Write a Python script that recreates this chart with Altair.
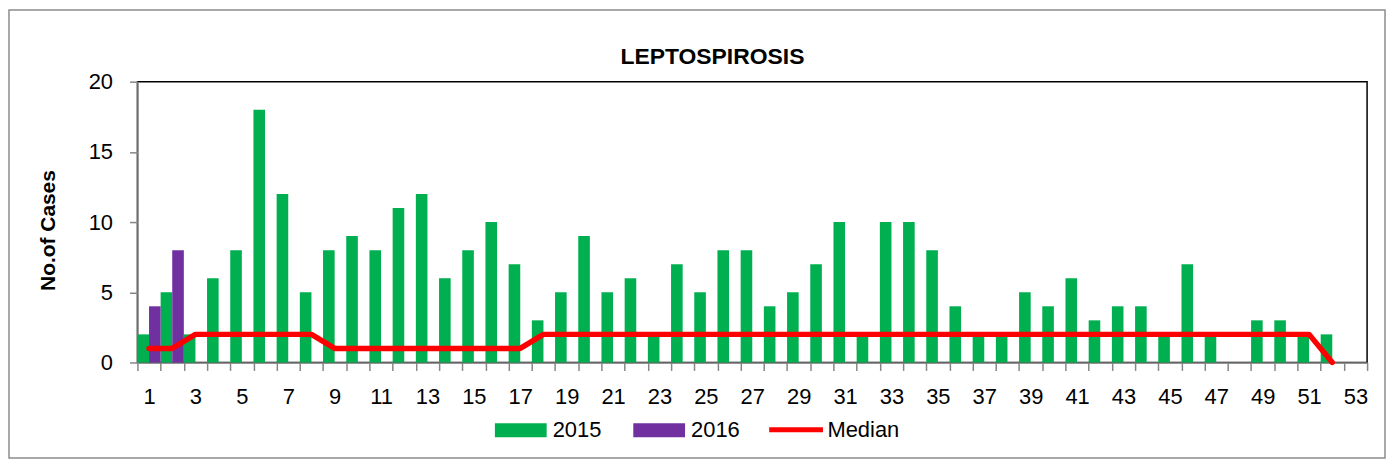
import altair as alt
import pandas as pd

# ---- data ----
weeks = list(range(1, 54))
cases_2015 = [2, 5, 2, 6, 8, 18, 12, 5, 8, 9, 8, 11, 12, 6, 8, 10, 7, 3, 5, 9,
              5, 6, 2, 7, 5, 8, 8, 4, 5, 7, 10, 2, 10, 10, 8, 4, 2, 2, 5, 4,
              6, 3, 4, 4, 2, 7, 2, 0, 3, 3, 2, 2]
weeks_2016 = [1, 2]
cases_2016 = [4, 8]
median = [1, 1, 2, 2, 2, 2, 2, 2, 1, 1, 1, 1, 1, 1, 1, 1, 1, 2, 2, 2,
          2, 2, 2, 2, 2, 2, 2, 2, 2, 2, 2, 2, 2, 2, 2, 2, 2, 2, 2, 2,
          2, 2, 2, 2, 2, 2, 2, 2, 2, 2, 2, 0]
year_labels = ["2015", "2016"]
year_colors = ["#00B050", "#7030A0"]
y_ticks = [0, 5, 10, 15, 20]

rows = [{"week": w, "year": "2015", "cases": c} for w, c in zip(weeks, cases_2015)]
rows += [{"week": w, "year": "2016", "cases": c} for w, c in zip(weeks_2016, cases_2016)]
bars_df = pd.DataFrame(rows)
med_df = pd.DataFrame({"week": weeks[:len(median)], "median": median,
                       "series": ["Median"] * len(median)})

FONT = "Liberation Sans"
AXIS_GREY = "#868686"

x_scale = alt.Scale(domain=weeks, paddingInner=0, paddingOuter=0)
y_scale = alt.Scale(domain=[0, 20], nice=False)

x_axis = alt.Axis(
    title=None, labelAngle=0, tickBand="extent", labelOverlap=False,
    labelExpr="datum.value % 2 == 1 ? datum.label : ''",
    labelFont=FONT, labelFontSize=22, labelColor="black", labelPadding=16,
    tickSize=8, tickColor=AXIS_GREY, tickWidth=1.5,
    domainColor=AXIS_GREY, domainWidth=1.5, grid=False,
)
y_axis = alt.Axis(
    title="No.of Cases", values=y_ticks, grid=False,
    titleFont=FONT, titleFontSize=21, titleFontWeight="bold", titleColor="black",
    titleX=-89, titleY=149, titleAlign="center", titleBaseline="middle", titleAngle=270,
    labelFont=FONT, labelFontSize=22, labelColor="black", labelPadding=17,
    tickSize=8, tickColor=AXIS_GREY, tickWidth=1.5,
    domainColor=AXIS_GREY, domainWidth=1.5,
)

frame = alt.Chart(alt.Data(values=[{"k": 1}])).mark_rect(
    fill="white", fillOpacity=0, stroke="#8c8c8c", strokeWidth=1.5
).encode(
    x=alt.value(-129), x2=alt.value(1253), y=alt.value(-72), y2=alt.value(378)
)

bars = alt.Chart(bars_df).mark_bar().encode(
    x=alt.X("week:O", scale=x_scale, axis=x_axis),
    xOffset=alt.XOffset("year:N", scale=alt.Scale(domain=year_labels, paddingInner=0, paddingOuter=0)),
    y=alt.Y("cases:Q", scale=y_scale, axis=y_axis),
    color=alt.Color(
        "year:N", scale=alt.Scale(domain=year_labels, range=year_colors),
        legend=alt.Legend(
            title=None, orient="none", legendX=359, legendY=324, direction="horizontal",
            symbolType="M-1,-0.27H1V0.27H-1Z", symbolSize=2704, symbolStrokeWidth=0,
            labelFont=FONT, labelFontSize=22, labelColor="black", labelOffset=6,
            columnPadding=32,
        ),
    ),
)

line = alt.Chart(med_df).mark_line(strokeWidth=5.5, strokeJoin="round", strokeCap="round").encode(
    x=alt.X("week:O", scale=x_scale),
    y=alt.Y("median:Q", scale=y_scale),
    stroke=alt.Stroke(
        "series:N", scale=alt.Scale(domain=["Median"], range=["#FF0000"]),
        legend=alt.Legend(
            title=None, orient="none", legendX=632, legendY=320, direction="horizontal",
            symbolType="stroke", symbolSize=2916, symbolStrokeWidth=5,
            labelFont=FONT, labelFontSize=22, labelColor="black", labelOffset=2,
        ),
    ),
)

chart = alt.layer(frame, bars, line).properties(
    width=1235, height=282,
    autosize=alt.AutoSizeParams(type="none"),
    padding={"left": 130, "top": 73, "right": 20, "bottom": 100},
    title=alt.TitleParams("LEPTOSPIROSIS", font=FONT, fontSize=23, fontWeight="bold",
                          color="black", anchor="middle", frame="group", dx=-40, offset=-60),
).configure_view(stroke="black", strokeWidth=1.5)

chart.save("out.html", embed_options={"renderer": "svg", "actions": False})
